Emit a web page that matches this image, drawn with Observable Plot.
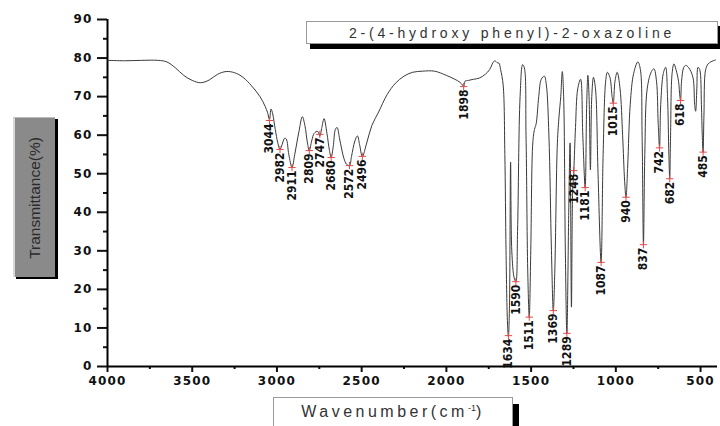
<!DOCTYPE html>
<html>
<head>
<meta charset="utf-8">
<script src="https://cdn.jsdelivr.net/npm/d3@7"></script>
<script src="https://cdn.jsdelivr.net/npm/@observablehq/plot@0.6"></script>
<style>
  html, body { margin: 0; padding: 0; background: #fff; }
  #wrap { position: relative; width: 720px; height: 426px; overflow: hidden; font-family: "Liberation Sans", Arial, sans-serif; }
  #chart { position: absolute; left: 0; top: 0; }
  .box { position: absolute; box-sizing: border-box; display: flex; align-items: center; justify-content: center; }
  #title { left: 306px; top: 21px; width: 412px; height: 23px; border: 1px solid #9a9a9a; background: #fff; box-shadow: 4px 5px 0 #000; color: #333; font-size: 14px; letter-spacing: 3.8px; }
  #ylab { left: 13px; top: 117px; width: 42px; height: 160px; background: #8a8a8a; border-left: 2px solid #d8d8d8; border-top: 1px solid #bbb; box-shadow: 3px 2px 0 #000; }
  #ylab span { transform: rotate(-90deg); white-space: nowrap; color: #2a2a2a; font-size: 15.5px; }
  #xlab { left: 273px; top: 397px; width: 240px; height: 45px; border: 1px solid #9a9a9a; background: #fff; box-shadow: 6px 7px 0 #000; color: #333; font-size: 16px; letter-spacing: 3.5px; align-items: flex-start; padding-top: 5px; }
  #xlab sup { font-size: 9px; letter-spacing: 0; }
  svg g[aria-label="x-axis tick label"] text, svg g[aria-label="y-axis tick label"] text { letter-spacing: 1.2px; }
</style>
</head>
<body>
<div id="wrap">
  <div id="chart"></div>
  <div class="box" id="title"></div>
  <div class="box" id="ylab"><span></span></div>
  <div class="box" id="xlab"></div>
</div>
<script>
// ---- data ----
const titleText = "2-(4-hydroxy phenyl)-2-oxazoline";
const yTitle = "Transmittance(%)";
const xTitleMain = "Wavenumber(cm";
const xTitleSup = "-1";
const xTitleEnd = ")";

const xTicks = [4000, 3500, 3000, 2500, 2000, 1500, 1000, 500];
const xMinor = [3750, 3250, 2750, 2250, 1750, 1250, 750];
const yTicks = [0, 10, 20, 30, 40, 50, 60, 70, 80, 90];
const yMinor = [5, 15, 25, 35, 45, 55, 65, 75, 85];

const wavenumber = [
  4000, 3900, 3800, 3700, 3650, 3600, 3550, 3500, 3450, 3400, 3350, 3300, 3250, 3200, 3150, 3100, 3070, 3055,
  3044, 3035, 3025, 3010, 2995, 2982, 2970, 2955, 2945, 2930, 2911, 2895, 2870, 2850, 2835, 2820, 2809, 2795,
  2780, 2760, 2747, 2735, 2722, 2705, 2690, 2680, 2668, 2655, 2645, 2630, 2605, 2590, 2572, 2560, 2540, 2525,
  2512, 2496, 2470, 2440, 2400, 2350, 2300, 2250, 2200, 2140, 2070, 2000, 1950, 1920, 1905, 1898, 1890, 1870,
  1840, 1806, 1770, 1745, 1725, 1715, 1700, 1690, 1680, 1665, 1655, 1648, 1640, 1634, 1628, 1621, 1614, 1600,
  1590, 1580, 1565, 1550, 1540, 1530, 1520, 1511, 1502, 1490, 1480, 1470, 1455, 1440, 1422, 1410, 1395, 1380,
  1369, 1360, 1345, 1335, 1325, 1316, 1308, 1298, 1289, 1278, 1270, 1262, 1255, 1248, 1238, 1225, 1208, 1195,
  1181, 1172, 1165, 1158, 1150, 1142, 1132, 1120, 1105, 1087, 1075, 1060, 1050, 1035, 1022, 1015, 1005, 992,
  975, 960, 948, 940, 930, 915, 895, 870, 855, 845, 837, 829, 815, 790, 775, 760, 750, 742, 735, 720, 706,
  695, 687, 682, 677, 668, 657, 645, 630, 622, 618, 612, 600, 588, 570, 545, 535, 529, 522, 515, 505, 495,
  490, 485, 480, 470, 455, 440, 425, 412
];
const transmittance = [
  79.4, 79.3, 79.4, 79.4, 79.0, 77.5, 75.5, 74.2, 73.6, 74.3, 75.8, 76.5, 76.2, 75.0, 72.8, 70.0, 67.5, 65.8,
  64.0, 66.8, 65.5, 61.5, 58.0, 56.3, 57.5, 59.2, 59.0, 55.0, 51.6, 55.0, 61.0, 64.8, 62.5, 58.0, 56.0, 58.5,
  60.5, 61.0, 59.8, 62.0, 64.3, 60.5, 56.0, 54.2, 57.0, 61.5, 62.0, 59.0, 54.0, 52.5, 52.1, 54.5, 58.5, 59.8,
  57.5, 54.5, 58.0, 62.5, 66.0, 70.5, 73.5, 75.3, 76.3, 76.6, 76.6, 75.5, 74.5, 73.7, 73.0, 72.6, 74.0, 74.2,
  74.5, 74.8, 75.8, 77.0, 78.8, 79.3, 78.8, 78.7, 77.0, 73.0, 55.0, 30.0, 12.0, 7.8, 15.0, 53.0, 30.0, 23.0,
  22.0, 35.0, 70.0, 78.3, 77.5, 60.0, 25.0, 12.8, 30.0, 58.0, 61.5, 63.0, 70.0, 74.5, 75.3, 73.0, 60.0, 30.0,
  14.5, 25.0, 58.0, 65.0, 70.0, 76.5, 70.0, 30.0, 8.5, 40.0, 58.0, 15.4, 45.0, 50.8, 62.0, 72.0, 74.5, 60.0,
  46.4, 68.0, 75.5, 70.0, 51.0, 70.0, 75.0, 72.0, 50.0, 27.0, 55.0, 74.0, 76.3, 75.0, 70.0, 68.3, 74.0, 76.3,
  72.0, 60.0, 48.0, 43.9, 52.0, 68.0, 76.0, 79.0, 77.0, 60.0, 31.6, 55.0, 72.0, 76.5, 77.2, 74.0, 63.0, 56.7, 68.0, 76.0, 77.6,
  70.0, 55.0, 48.7, 60.0, 76.0, 78.5, 77.0, 74.0, 70.0, 69.0, 74.0, 77.5, 78.1, 77.5, 75.0, 68.0, 66.2, 72.0, 77.6, 77.0, 68.0,
  60.0, 55.6, 65.0, 77.0, 78.5, 79.0, 79.3, 79.5
];

const peakWn = [3044, 2982, 2911, 2809, 2747, 2680, 2572, 2496, 1898, 1634, 1590, 1511, 1369, 1289, 1248, 1181, 1087, 1015, 940, 837, 742, 682, 618, 485];
const peakT  = [63.8, 56.3, 51.6, 56.0, 60.2, 54.2, 52.1, 54.5, 72.6, 8.0, 22.0, 12.8, 14.5, 8.6, 50.8, 46.4, 27.0, 68.3, 43.9, 31.6, 56.7, 48.7, 69.0, 55.6];

// ---- build tables ----
const spectrum = wavenumber.map((w, i) => ({w, t: transmittance[i]}));
const peaks = peakWn.map((w, i) => ({w, t: peakT[i], label: String(w)}));

const tickFont = "DejaVu Sans, Liberation Sans, sans-serif";
const labelFont = "DejaVu Sans Condensed, DejaVu Sans, sans-serif";

const chart = Plot.plot({
  width: 720,
  height: 426,
  marginLeft: 107,
  marginRight: 3,
  marginTop: 19,
  marginBottom: 60,
  style: {background: "transparent", color: "#111", fontFamily: tickFont, fontWeight: "bold", fontSize: "12px"},
  x: {domain: [4000, 400]},
  y: {domain: [0, 90]},
  marks: [
    Plot.axisX({ticks: xTicks, tickSize: 6, tickPadding: 4, strokeWidth: 2, tickFormat: d => String(d), label: null, fontSize: 12, fontWeight: "bold"}),
    Plot.axisX({ticks: xMinor, tickSize: 3, strokeWidth: 2, tickFormat: () => "", label: null}),
    Plot.axisY({ticks: yTicks, tickSize: 10, tickPadding: 5, strokeWidth: 2, tickFormat: d => String(d), label: null, fontSize: 12, fontWeight: "bold"}),
    Plot.axisY({ticks: yMinor, tickSize: 4, strokeWidth: 2, tickFormat: () => "", label: null}),
    Plot.ruleY([0], {stroke: "#000", strokeWidth: 2}),
    Plot.ruleX([4000], {y1: 0, y2: 90, stroke: "#000", strokeWidth: 2}),
    Plot.line(spectrum, {x: "w", y: "t", stroke: "#3a3a3a", strokeWidth: 1, curve: "catmull-rom"}),
    Plot.dot(peaks, {x: "w", y: "t", symbol: "plus", r: 2.5, stroke: "#e04a4a", strokeWidth: 1}),
    Plot.text(peaks, {x: "w", y: "t", text: "label", rotate: -90, textAnchor: "end", dy: 3, fill: "#111",
      fontFamily: labelFont, fontWeight: "bold", fontSize: 12})
  ]
});
document.getElementById("chart").appendChild(chart);

document.getElementById("title").textContent = titleText;
document.querySelector("#ylab span").textContent = yTitle;
const xl = document.getElementById("xlab");
xl.appendChild(document.createTextNode(xTitleMain));
const sup = document.createElement("sup");
sup.textContent = xTitleSup;
xl.appendChild(sup);
xl.appendChild(document.createTextNode(xTitleEnd));
</script>
</body>
</html>
